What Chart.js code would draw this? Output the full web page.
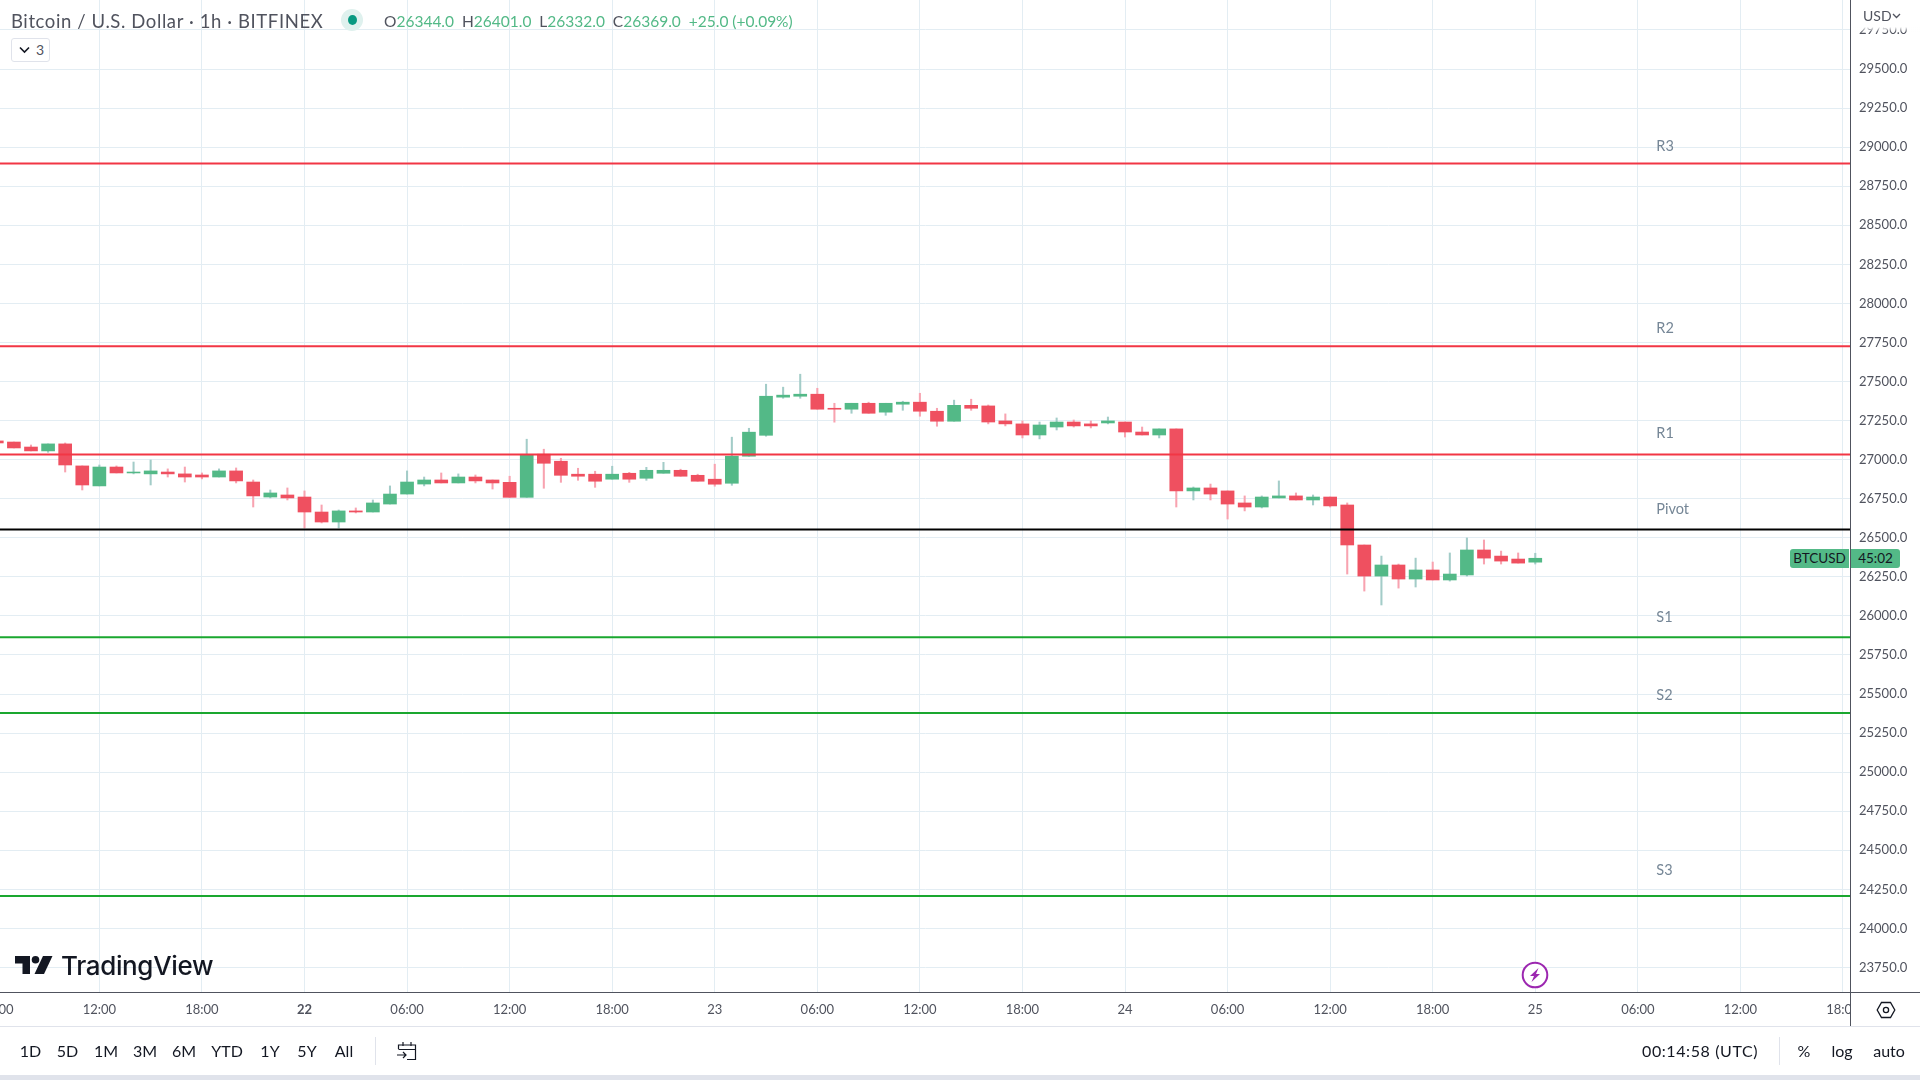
<!DOCTYPE html>
<html>
<head>
<meta charset="utf-8">
<title>BTCUSD 1h</title>
<script src="https://cdn.jsdelivr.net/npm/chart.js@4"></script>
<style>
  html, body { margin: 0; padding: 0; background: #fff; width: 1920px; height: 1080px; overflow: hidden; }
  body { font-family: Lato, sans-serif; color: #131722; position: relative; }
  canvas { position: absolute; left: 0; top: 0; }
  .ui { position: absolute; white-space: nowrap; line-height: 1; }
  .ctr { transform: translate(-50%, -50%); }
  .mid { transform: translateY(-50%); }
  .up { color: #53b987; }
  .btn { font-size: 16px; }
  .sep { position: absolute; width: 1px; background: #e0e3eb; top: 1037px; height: 28px; }
</style>
</head>
<body>
<canvas id="grafico" width="1920" height="1080"></canvas>

<!-- header -->
<div class="ui mid" style="left:11px;top:21px;font-size:18.5px;color:#50535e;letter-spacing:.6px">Bitcoin / U.S. Dollar · 1h · BITFINEX</div>
<div class="ui" style="left:341px;top:9px;width:22px;height:22px;border-radius:50%;background:#dff1ee"></div>
<div class="ui" style="left:348px;top:15px;width:9px;height:10px;border-radius:50%;background:#089981"></div>
<div class="ui mid" style="left:384px;top:22px;font-size:15.5px;color:#50535e">O<span class="up">26344.0</span>&nbsp; H<span class="up">26401.0</span>&nbsp; L<span class="up">26332.0</span>&nbsp; C<span class="up">26369.0</span>&nbsp; <span class="up">+25.0 (+0.09%)</span></div>
<div class="ui" style="left:11px;top:38px;width:39px;height:24px;box-sizing:border-box;border:1px solid #e0e3eb;border-radius:3px;background:#fff"></div>
<svg class="ui" style="left:19px;top:46px" width="11" height="8"><path d="M1 1.5 L5.5 6 L10 1.5" fill="none" stroke="#131722" stroke-width="1.6"/></svg>
<div class="ui mid" style="left:36px;top:50px;font-size:14px;color:#50535e">3</div>

<!-- price scale corner -->
<div class="ui" style="left:1852px;top:0;width:68px;height:32px;background:linear-gradient(#fff 27px, rgba(255,255,255,0))"></div>
<div class="ui mid" style="left:1863px;top:16px;font-size:14px;color:#50535e">USD</div>
<svg class="ui" style="left:1892px;top:13px" width="9" height="6"><path d="M1 1 L4.5 4.5 L8 1" fill="none" stroke="#50535e" stroke-width="1.3"/></svg>

<!-- last price tag -->
<div class="ui" style="left:1790px;top:549px;width:59px;height:19px;background:#53b987;border-radius:3px 0 0 3px;color:#131722;font-size:13.5px;line-height:19px;text-align:center">BTCUSD</div>
<div class="ui" style="left:1851px;top:549px;width:49px;height:19px;background:#53b987;border-radius:0 3px 3px 0;color:#131722;font-size:13.5px;line-height:19px;text-align:center">45:02</div>

<!-- logo -->
<svg class="ui" style="left:15px;top:956px" width="38" height="18" viewBox="0 0 38 18"><path d="M0 0 H15 V18 H7.5 V7.5 H0 Z" fill="#131722"/><circle cx="20.5" cy="3.8" r="3.8" fill="#131722"/><path d="M28 0 H37.5 L29 18 H19.5 Z" fill="#131722"/></svg>
<div class="ui mid" style="left:61px;top:966px;font-family:Inter,sans-serif;font-weight:500;font-size:26px;color:#131722;letter-spacing:-.35px">TradingView</div>

<!-- lightning marker -->
<svg class="ui" style="left:1521px;top:961px" width="28" height="28"><circle cx="14" cy="14" r="12.3" fill="#fff" stroke="#9c27b0" stroke-width="2"/><path d="M17.5 7 L9 15 H13 L10.5 21 L19 13 H15 Z" fill="#9c27b0"/></svg>

<!-- axis corner -->
<div class="ui" style="left:1851px;top:993px;width:69px;height:33px;background:#fff"></div>
<div class="ui" style="left:1850px;top:0;width:1px;height:1026px;background:#50535e"></div>
<div class="ui" style="left:0;top:992px;width:1920px;height:1px;background:#50535e"></div>
<svg class="ui" style="left:1876px;top:1001px" width="20" height="18"><path d="M5.5 1.5 H14.5 L18.8 9 L14.5 16.5 H5.5 L1.2 9 Z" fill="none" stroke="#131722" stroke-width="1.3"/><circle cx="10" cy="9" r="2.6" fill="none" stroke="#131722" stroke-width="1.3"/></svg>

<!-- bottom toolbar -->
<div class="ui" style="left:0;top:1026px;width:1920px;height:1px;background:#e0e3eb"></div>
<div class="ui" style="left:0;top:1075px;width:1920px;height:5px;background:#e0e3eb"></div>
<div class="ui ctr btn" style="left:30.5px;top:1051px">1D</div>
<div class="ui ctr btn" style="left:67.5px;top:1051px">5D</div>
<div class="ui ctr btn" style="left:106px;top:1051px">1M</div>
<div class="ui ctr btn" style="left:145px;top:1051px">3M</div>
<div class="ui ctr btn" style="left:184px;top:1051px">6M</div>
<div class="ui ctr btn" style="left:227px;top:1051px">YTD</div>
<div class="ui ctr btn" style="left:270px;top:1051px">1Y</div>
<div class="ui ctr btn" style="left:307px;top:1051px">5Y</div>
<div class="ui ctr btn" style="left:344px;top:1051px">All</div>
<div class="sep" style="left:375px"></div>
<svg class="ui" style="left:396px;top:1040px" width="22" height="21"><path d="M2.5 9 V5 H19.5 V19.5 H11 M2.5 9.5 H19.5 M7 2 V6 M15 2 V6 M1 15 H10 M7 12 L10 15 L7 18" fill="none" stroke="#131722" stroke-width="1.2"/></svg>
<div class="ui mid btn" style="left:1642px;top:1051px;letter-spacing:.6px">00:14:58 (UTC)</div>
<div class="sep" style="left:1779px"></div>
<div class="ui ctr btn" style="left:1804px;top:1051px">%</div>
<div class="ui ctr btn" style="left:1842px;top:1051px">log</div>
<div class="ui ctr btn" style="left:1889px;top:1051px">auto</div>

<script>
// ===== Data =====
// hours counted from day 22 00:00
const hours = [-18, -17, -16, -15, -14, -13, -12, -11, -10, -9, -8, -7, -6, -5, -4, -3, -2, -1,
  0, 1, 2, 3, 4, 5, 6, 7, 8, 9, 10, 11, 12, 13, 14, 15, 16, 17, 18, 19, 20, 21, 22, 23,
  24, 25, 26, 27, 28, 29, 30, 31, 32, 33, 34, 35, 36, 37, 38, 39, 40, 41, 42, 43, 44, 45, 46, 47,
  48, 49, 50, 51, 52, 53, 54, 55, 56, 57, 58, 59, 60, 61, 62, 63, 64, 65, 66, 67, 68, 69, 70, 71, 72];

const opens = [27120, 27113, 27081, 27056, 27101, 26960, 26832, 26953, 26915, 26909, 26921, 26909, 26902, 26889, 26928, 26857, 26761, 26774,
  26761, 26665, 26601, 26672, 26665, 26716, 26780, 26844, 26870, 26851, 26889, 26870, 26855, 26759, 27035, 26990, 26907, 26907, 26875, 26913, 26881, 26913, 26932, 26900,
  26875, 26849, 27022, 27156, 27400, 27406, 27419, 27329, 27323, 27361, 27304, 27355, 27368, 27310, 27246, 27348, 27344, 27248, 27229, 27158, 27209, 27241, 27229, 27235,
  27241, 27177, 27158, 27197, 26800, 26819, 26800, 26723, 26697, 26755, 26768, 26742, 26761, 26710, 26454, 26255, 26326, 26236, 26294, 26230, 26262, 26422, 26383, 26364, 26344];

const closes = [27107, 27075, 27056, 27101, 26966, 26838, 26953, 26915, 26921, 26928, 26909, 26889, 26889, 26928, 26864, 26768, 26787, 26755,
  26665, 26601, 26672, 26665, 26723, 26780, 26857, 26870, 26851, 26889, 26864, 26851, 26759, 27028, 26977, 26900, 26894, 26862, 26907, 26875, 26932, 26932, 26894, 26862,
  26843, 27022, 27176, 27406, 27413, 27419, 27323, 27323, 27361, 27297, 27361, 27368, 27310, 27246, 27348, 27329, 27241, 27229, 27158, 27222, 27241, 27216, 27216, 27248,
  27177, 27158, 27197, 26800, 26819, 26780, 26716, 26697, 26761, 26768, 26742, 26761, 26704, 26454, 26255, 26326, 26236, 26294, 26230, 26268, 26422, 26370, 26351, 26338, 26369];

const highs = [27120, 27113, 27094, 27101, 27107, 26960, 26966, 26960, 26985, 26998, 26941, 26953, 26915, 26941, 26947, 26870, 26806, 26819,
  26800, 26710, 26678, 26691, 26742, 26832, 26928, 26889, 26915, 26909, 26902, 26870, 26894, 27131, 27067, 27009, 26945, 26926, 26958, 26919, 26951, 26983, 26939, 26907,
  26971, 27144, 27201, 27483, 27464, 27547, 27457, 27361, 27361, 27368, 27361, 27374, 27425, 27329, 27381, 27387, 27350, 27293, 27248, 27241, 27267, 27254, 27248, 27273,
  27241, 27209, 27197, 27197, 26825, 26844, 26800, 26768, 26768, 26864, 26787, 26774, 26761, 26723, 26454, 26383, 26332, 26370, 26345, 26403, 26499, 26486, 26415, 26403, 26401];

const lows = [27107, 27075, 27056, 27047, 26921, 26806, 26832, 26915, 26909, 26838, 26889, 26857, 26877, 26889, 26851, 26697, 26755, 26742,
  26563, 26595, 26563, 26659, 26665, 26716, 26780, 26832, 26851, 26851, 26851, 26812, 26759, 26759, 26817, 26855, 26868, 26823, 26875, 26855, 26868, 26913, 26894, 26862,
  26830, 26836, 27022, 27150, 27393, 27393, 27323, 27240, 27297, 27297, 27284, 27316, 27278, 27214, 27246, 27316, 27229, 27216, 27139, 27133, 27190, 27209, 27203, 27229,
  27145, 27158, 27139, 26697, 26742, 26742, 26620, 26672, 26691, 26755, 26742, 26710, 26697, 26268, 26159, 26070, 26178, 26185, 26230, 26223, 26255, 26332, 26332, 26338, 26332];

const levelNames = ['R3', 'R2', 'R1', 'Pivot', 'S1', 'S2', 'S3'];
const levelPrices = [28895, 27726, 27033, 26553, 25864, 25378, 24207];
const levelColors = ['#f23645', '#f23645', '#f23645', '#000000', '#1aa72f', '#1aa72f', '#1aa72f'];
// where each level's caption sits
const levelLabelPrices = [29005, 27839, 27167, 26684, 25990, 25491, 24372];
const levelLabelHour = 79.08;

const priceTicks = [29750, 29500, 29250, 29000, 28750, 28500, 28250, 28000, 27750, 27500, 27250, 27000, 26750, 26500,
  26250, 26000, 25750, 25500, 25250, 25000, 24750, 24500, 24250, 24000, 23750];

const timeTickHours = [-18, -12, -6, 0, 6, 12, 18, 24, 30, 36, 42, 48, 54, 60, 66, 72, 78, 84, 90];
const timeTickLabels = ['06:00', '12:00', '18:00', '22', '06:00', '12:00', '18:00', '23', '06:00', '12:00', '18:00', '24',
  '06:00', '12:00', '18:00', '25', '06:00', '12:00', '18:00'];

const hourMin = -17.813, hourMax = 90.47;
const priceMin = 23593, priceMax = 29942;

// ===== Colors =====
const UP = '#53b987', DOWN = '#ef5060', WICK_UP = '#a3ccc8', WICK_DOWN = '#f8a3b0', GRID = '#e3edf3';

const isUp = hours.map((h, i) => closes[i] >= opens[i]);

// ===== Datasets =====
const wickDataset = {
  type: 'bar',
  order: 3,
  grouped: false,
  barThickness: 1.4,
  data: hours.map((h, i) => ({ x: h, y: [lows[i], highs[i]] })),
  backgroundColor: isUp.map(u => (u ? WICK_UP : WICK_DOWN))
};

const bodyDataset = {
  type: 'bar',
  order: 2,
  grouped: false,
  barThickness: 13,
  data: hours.map((h, i) => ({ x: h, y: [opens[i], closes[i]] })),
  backgroundColor: isUp.map(u => (u ? UP : DOWN))
};

const levelDatasets = levelPrices.map((price, i) => ({
  type: 'line',
  order: 1,
  data: [{ x: hourMin, y: price }, { x: hourMax, y: price }],
  borderColor: levelColors[i],
  borderWidth: 2,
  pointRadius: 0
}));

// captions above the level lines
const levelCaptions = {
  id: 'levelCaptions',
  afterDatasetsDraw(chart) {
    const { ctx, scales } = chart;
    ctx.save();
    ctx.font = '14.5px Lato, sans-serif';
    ctx.fillStyle = '#758696';
    ctx.textAlign = 'left';
    ctx.textBaseline = 'middle';
    levelNames.forEach((name, i) => {
      ctx.fillText(name, scales.x.getPixelForValue(levelLabelHour), scales.y.getPixelForValue(levelLabelPrices[i]));
    });
    ctx.restore();
  }
};

// axis labels must not push the plot inwards
function noScalePadding(scale) {
  scale.paddingLeft = 0;
  scale.paddingRight = 0;
  scale.paddingTop = 0;
  scale.paddingBottom = 0;
}

// ===== Chart =====
new Chart(document.getElementById('grafico'), {
  type: 'bar',
  data: { datasets: [wickDataset, bodyDataset, ...levelDatasets] },
  plugins: [levelCaptions],
  options: {
    responsive: false,
    animation: false,
    layout: { autoPadding: false, padding: { left: 0, top: 0, right: 0, bottom: 53 } },
    plugins: { legend: { display: false }, tooltip: { enabled: false } },
    scales: {
      x: {
        type: 'linear',
        min: hourMin,
        max: hourMax,
        offset: false,
        afterFit: (scale) => { scale.height = 35; noScalePadding(scale); },
        afterBuildTicks: (scale) => { scale.ticks = timeTickHours.map(value => ({ value })); },
        grid: { color: GRID, offset: false, drawTicks: false },
        border: { display: false },
        ticks: {
          autoSkip: false,
          maxRotation: 0,
          padding: 10,
          color: '#50535e',
          font: (ctx) => ({ family: 'Lato, sans-serif', size: 13, weight: ctx.tick && ctx.tick.value === 0 ? 'bold' : 'normal' }),
          callback: (value) => timeTickLabels[timeTickHours.indexOf(value)]
        }
      },
      y: {
        position: 'right',
        min: priceMin,
        max: priceMax,
        afterFit: (scale) => { scale.width = 69; noScalePadding(scale); },
        afterBuildTicks: (scale) => { scale.ticks = priceTicks.map(value => ({ value })); },
        grid: { color: GRID, drawTicks: false },
        border: { display: false },
        ticks: {
          autoSkip: false,
          padding: 8,
          color: '#50535e',
          font: { family: 'Lato, sans-serif', size: 13 },
          callback: (value) => value.toFixed(1)
        }
      }
    }
  }
});
</script>
</body>
</html>
